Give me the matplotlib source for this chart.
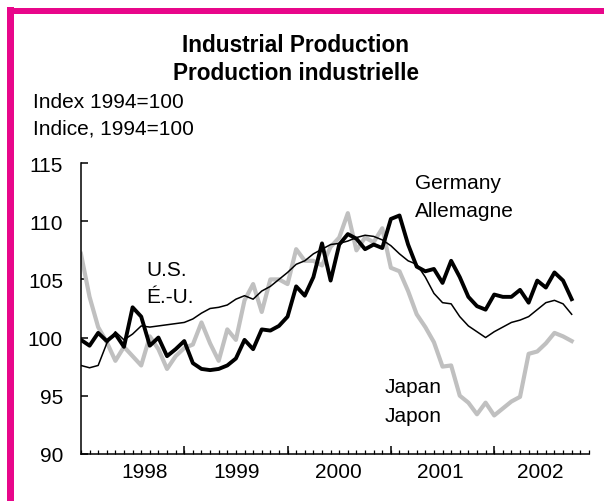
import matplotlib
matplotlib.use("Agg")
import matplotlib.pyplot as plt
import matplotlib.patches as mpatches
import numpy as np

plt.rcParams['font.family'] = ['Liberation Sans', 'DejaVu Sans']

# monthly index values, Jan 1998 onward
us = [97.6, 97.4, 97.6, 99.5, 100.5, 99.8, 100.3, 101.0, 100.9, 101.0,
      101.1, 101.2, 101.3, 101.6, 102.1, 102.5, 102.6, 102.8, 103.3, 103.6,
      103.3, 104.0, 104.4, 105.0, 105.6, 106.3, 106.6, 107.2, 107.6, 108.0,
      108.1, 108.3, 108.6, 108.8, 108.7, 108.4, 107.9, 107.2, 106.6, 106.3,
      105.2, 103.8, 103.0, 102.9, 101.8, 101.0, 100.5, 100.0, 100.5, 100.9,
      101.3, 101.5, 101.8, 102.4, 103.0, 103.2, 102.9, 102.0]
germany = [99.8, 99.3, 100.4, 99.7, 100.3, 99.2, 102.6, 101.8, 99.3, 100.0,
           98.4, 99.0, 99.7, 97.8, 97.3, 97.2, 97.3, 97.6, 98.2, 99.8,
           99.0, 100.7, 100.6, 101.0, 101.8, 104.4, 103.6, 105.2, 108.1, 104.9,
           108.0, 108.9, 108.5, 107.6, 108.0, 107.7, 110.2, 110.5, 108.0, 106.1,
           105.7, 105.9, 104.7, 106.6, 105.2, 103.5, 102.7, 102.4, 103.7, 103.5,
           103.5, 104.1, 103.0, 104.9, 104.3, 105.6, 104.9, 103.3]
japan = [107.2, 103.5, 100.9, 99.6, 98.0, 99.2, 98.4, 97.6, 100.1, 99.0,
         97.3, 98.4, 99.1, 99.4, 101.3, 99.5, 98.0, 100.7, 99.8, 103.2,
         104.6, 102.2, 105.0, 105.0, 104.6, 107.6, 106.6, 106.6, 106.2, 107.8,
         108.6, 110.7, 107.5, 108.6, 108.2, 109.4, 106.0, 105.7, 104.0, 102.0,
         100.9, 99.6, 97.5, 97.6, 95.0, 94.4, 93.4, 94.4, 93.3, 93.9,
         94.5, 94.9, 98.6, 98.8, 99.5, 100.4, 100.1, 99.7]

years = ['1998', '1999', '2000', '2001', '2002']
year_pos = [7.4, 18.1, 29.9, 41.7, 53.3]
year_breaks = [12, 24, 36, 48]
months = np.arange(len(us))

fs = 15

fig = plt.figure(figsize=(6.04, 5.02), dpi=100)
ax = fig.add_axes([0.134, 0.094, 0.841, 0.579])

ax.plot(months, japan, color='#c0c0c0', lw=3.0, solid_joinstyle='round')
ax.plot(months, us, color='black', lw=1.1)
ax.plot(months, germany, color='black', lw=2.8, solid_joinstyle='round')

ax.set_xlim(0, 59)
ax.set_ylim(90, 115)
ax.set_yticks(range(90, 116, 5))
for s in ['top', 'right']:
    ax.spines[s].set_visible(False)
for s in ['left', 'bottom']:
    ax.spines[s].set_linewidth(1.1)

ax.tick_params(axis='y', direction='in', length=5, width=1.1, labelsize=fs, pad=13)
ax.set_xticks(year_pos, years)
ax.set_xticks(np.arange(0, 60), minor=True)
ax.tick_params(axis='x', which='major', length=0, labelsize=fs, pad=6)
ax.tick_params(axis='x', which='minor', direction='in', length=3, width=0.9)

sec = ax.secondary_xaxis('bottom')
sec.set_xticks(year_breaks)
sec.tick_params(direction='in', length=6, width=1.1, labelbottom=False)
sec.spines['bottom'].set_visible(False)

# series labels
ax.text(7.6, 105.38, 'U.S.', fontsize=fs, va='baseline')
ax.text(7.6, 103.06, 'É.-U.', fontsize=fs, va='baseline')
ax.text(38.8, 112.85, 'Germany', fontsize=fs, va='baseline')
ax.text(38.8, 110.47, 'Allemagne', fontsize=fs, va='baseline')
ax.text(35.3, 95.33, 'Japan', fontsize=fs, va='baseline')
ax.text(35.3, 92.86, 'Japon', fontsize=fs, va='baseline')

# titles
fig.text(296/604, 1-45/502, 'Industrial Production', fontsize=16.3,
         fontweight='bold', ha='center', va='center')
fig.text(296/604, 1-73/502, 'Production industrielle', fontsize=16.3,
         fontweight='bold', ha='center', va='center')
fig.text(33/604, 1-103/502, 'Index 1994=100', fontsize=fs, va='center')
fig.text(33/604, 1-129/502, 'Indice, 1994=100', fontsize=fs, va='center')

# magenta frame (top and left only visible)
mag = '#e8068a'
fig.add_artist(mpatches.Rectangle((7.5/604, 0), 6/604, 1-8/502,
                                  transform=fig.transFigure, color=mag, lw=0))
fig.add_artist(mpatches.Rectangle((7.5/604, 1-14.5/502), 1, 6/502,
                                  transform=fig.transFigure, color=mag, lw=0))

fig.savefig('out.png', dpi=100)
